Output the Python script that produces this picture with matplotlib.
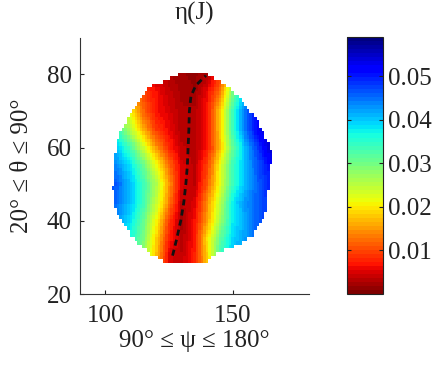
import numpy as np
import matplotlib.pyplot as plt
from matplotlib.colors import ListedColormap

plt.rcParams['font.family'] = ['Liberation Serif', 'DejaVu Serif']

# eta(J) on a coarse 5 deg grid (rows: theta, columns: psi)
PSI_COLS = [100, 105, 110, 115, 120, 125, 130, 135, 140, 145, 150, 155, 160, 165, 170]
THETA_ROWS = [30, 35, 40, 45, 50, 55, 60, 65, 70, 75, 80]
ETA = [
    [0.044, 0.040, 0.035, 0.028, 0.017, 0.005, 0.004, 0.0075, 0.018, 0.034, 0.040, 0.044, 0.048, 0.051, 0.054],
    [0.045, 0.041, 0.036, 0.0296, 0.0183, 0.0075, 0.003, 0.007, 0.0194, 0.0314, 0.039, 0.0425, 0.046, 0.049, 0.052],
    [0.047, 0.043, 0.038, 0.031, 0.021, 0.0095, 0.0025, 0.0065, 0.0153, 0.027, 0.0375, 0.042, 0.046, 0.049, 0.052],
    [0.048, 0.0445, 0.040, 0.0338, 0.0246, 0.0135, 0.0035, 0.005, 0.0142, 0.025, 0.0375, 0.043, 0.046, 0.049, 0.052],
    [0.049, 0.0455, 0.040, 0.034, 0.026, 0.0150, 0.005, 0.0035, 0.011, 0.022, 0.034, 0.041, 0.046, 0.050, 0.054],
    [0.046, 0.043, 0.038, 0.031, 0.022, 0.0125, 0.005, 0.0035, 0.0095, 0.0215, 0.034, 0.041, 0.0465, 0.051, 0.055],
    [0.043, 0.0395, 0.033, 0.024, 0.0148, 0.008, 0.004, 0.003, 0.007, 0.017, 0.031, 0.041, 0.048, 0.055, 0.058],
    [0.039, 0.034, 0.025, 0.0165, 0.009, 0.006, 0.003, 0.003, 0.007, 0.018, 0.034, 0.045, 0.052, 0.056, 0.058],
    [0.034, 0.028, 0.021, 0.012, 0.0068, 0.005, 0.003, 0.003, 0.007, 0.018, 0.034, 0.045, 0.052, 0.056, 0.058],
    [0.025, 0.020, 0.015, 0.010, 0.0065, 0.004, 0.0025, 0.002, 0.006, 0.013, 0.0295, 0.041, 0.048, 0.053, 0.056],
    [0.012, 0.009, 0.007, 0.005, 0.004, 0.003, 0.002, 0.0015, 0.0025, 0.009, 0.022, 0.035, 0.045, 0.050, 0.055],
]

# outline of the feasible region (left / right psi for each theta)
EDGE_THETA = [29, 31, 33.5, 36, 41, 45, 49, 54.5, 57, 60, 63.5, 68, 72.5, 76.5, 80]
EDGE_LEFT = [122.5, 118, 113.4, 110, 105.5, 103.5, 102.9, 103.5, 103.8, 104.2, 105.5, 108.8, 112.7, 117.3, 128.5]
EDGE_RIGHT = [140, 143, 152.8, 158, 162.6, 163.8, 164, 164.6, 165.9, 164.6, 162.6, 159.3, 154, 148.8, 140]

# dashed minimum curve
VALLEY_THETA = [30.5, 35, 40, 45, 50, 55, 60, 65, 70, 74, 77, 79.7]
VALLEY_PSI = [126.4, 128, 129.6, 130.8, 131.6, 132.2, 132.5, 132.8, 133, 133.6, 135.5, 139.5]

# 1 deg grid, like the original sampling
psi = np.arange(95, 171)
theta = np.arange(29, 81)
eta_tab = np.array(ETA)
cols = np.array([np.interp(theta, THETA_ROWS, eta_tab[:, j]) for j in range(len(PSI_COLS))]).T
field = np.array([np.interp(psi, PSI_COLS, row) for row in cols])
left = np.interp(theta, EDGE_THETA, EDGE_LEFT)
right = np.interp(theta, EDGE_THETA, EDGE_RIGHT)
inside = (psi[None, :] >= left[:, None]) & (psi[None, :] <= right[:, None])
field = np.ma.masked_where(~inside, field)

cmap = ListedColormap(plt.get_cmap('jet_r')(np.linspace(0, 1, 64)))
fig = plt.figure(figsize=(4.37, 3.68), dpi=100)
ax = fig.add_axes([0.183, 0.201, 0.524, 0.696])
cax = fig.add_axes([0.794, 0.201, 0.082, 0.698])

mesh = ax.pcolormesh(np.arange(94.5, 171), np.arange(28.5, 81), field,
                     cmap=cmap, vmin=0, vmax=0.059, shading='flat')
ax.plot(VALLEY_PSI, VALLEY_THETA, color='#111111', lw=2.0, ls=(0, (2.2, 1.5)))

ax.set_xlim(90, 180)
ax.set_ylim(20, 90)
ax.set_xticks([100, 150])
ax.set_yticks([20, 40, 60, 80])
for s in ['top', 'right']:
    ax.spines[s].set_visible(False)
for s in ['left', 'bottom']:
    ax.spines[s].set_color('#333333')
ax.tick_params(direction='in', length=3, labelsize=18, colors='#222222')
ax.tick_params(axis='x', pad=8)
ax.tick_params(axis='y', pad=6)
ax.set_xlabel('90° ≤ ψ ≤ 180°', fontsize=18, color='#222222', labelpad=2)
ax.set_ylabel('20° ≤ θ ≤ 90°', fontsize=18, color='#222222', labelpad=10)
ax.set_title('η(J)', fontsize=18, color='#222222', pad=13)

cb = fig.colorbar(mesh, cax=cax, ticks=[0.01, 0.02, 0.03, 0.04, 0.05])
cb.ax.tick_params(direction='in', length=3, labelsize=18, colors='#222222',
                  left=True, right=True)
cb.outline.set_edgecolor('#222222')

fig.savefig('out.png', dpi=100)
